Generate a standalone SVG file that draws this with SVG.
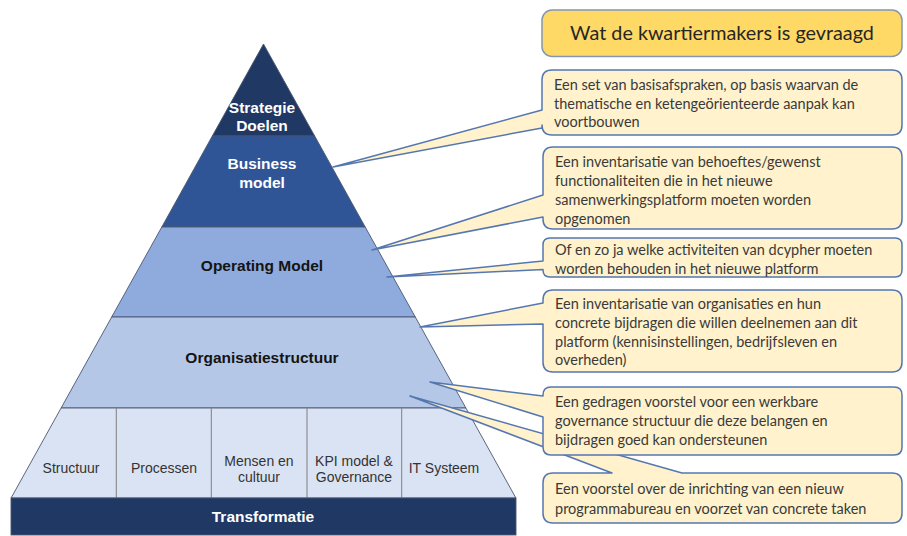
<svg xmlns="http://www.w3.org/2000/svg" width="907" height="536" viewBox="0 0 907 536">
<style>
.band{stroke:#4a5670;stroke-width:0.9}
.div{stroke:#7f7f7f;stroke-width:1}
.lblW{font-family:"Liberation Sans",Arial,sans-serif;font-weight:bold;font-size:15.5px;fill:#ffffff;text-anchor:middle}
.lblB{font-family:"Liberation Sans",Arial,sans-serif;font-weight:bold;font-size:15.5px;fill:#141414;text-anchor:middle}
.cell{font-family:"Liberation Sans",Arial,sans-serif;font-size:14px;fill:#333333;text-anchor:middle}
.co{fill:#fff2cc;stroke:#5577b0;stroke-width:1.5;stroke-linejoin:round}
.ct{font-family:Lato,"Liberation Sans",sans-serif;font-size:14.5px;fill:#3a3a3a}
.title{fill:#ffd966;stroke:#8497b0;stroke-width:1.5}
.tt{font-family:Lato,"Liberation Sans",sans-serif;font-size:19.8px;fill:#262626;text-anchor:middle}
</style>
<rect width="907" height="536" fill="#ffffff"/>
<g id="pyramid">
<g id="strategie"><polygon class="band" fill="#203864" points="263.5,44 314.7,136 212.3,136"/>
<text class="lblW" x="262" y="113">Strategie</text><text class="lblW" x="262" y="131">Doelen</text></g>
<g id="business"><polygon class="band" fill="#2f5597" points="212.3,136 314.7,136 365.2,227 161.8,227"/>
<text class="lblW" x="262" y="169">Business</text><text class="lblW" x="262" y="188">model</text></g>
<g id="operating"><polygon class="band" fill="#8faadc" points="161.8,227 365.2,227 415.3,317 111.7,317"/>
<text class="lblB" x="262" y="271">Operating Model</text></g>
<g id="organisatie"><polygon class="band" fill="#b4c7e7" points="111.7,317 415.3,317 465.9,408 61.1,408"/>
<text class="lblB" x="262" y="363">Organisatiestructuur</text></g>
<g id="bottomrow"><polygon class="band" fill="#dae3f3" points="61.1,408 465.9,408 515.9,498 11.1,498"/>
<line class="div" x1="116.3" y1="408" x2="116.3" y2="498"/>
<line class="div" x1="211.3" y1="408" x2="211.3" y2="498"/>
<line class="div" x1="307" y1="408" x2="307" y2="498"/>
<line class="div" x1="401.7" y1="408" x2="401.7" y2="498"/>
<text class="cell" x="71" y="473">Structuur</text>
<text class="cell" x="164" y="473">Processen</text>
<text class="cell" x="259" y="466">Mensen en</text><text class="cell" x="259" y="482">cultuur</text>
<text class="cell" x="354" y="466">KPI model &amp;</text><text class="cell" x="354" y="482">Governance</text>
<text class="cell" x="444" y="473">IT Systeem</text></g>
<g id="transformatie"><rect x="11" y="498" width="505" height="37" fill="#203864" stroke="#4a5670" stroke-width="0.9"/>
<text class="lblW" x="263" y="522">Transformatie</text></g>
</g>
<g id="connectors"></g>
<g id="title"><rect class="title" x="542" y="10" width="360" height="46.5" rx="10"/>
<text class="tt" x="722" y="40">Wat de kwartiermakers is gevraagd</text></g>
<g id="callout1"><path class="co" d="M552,70 H892 Q902,70 902,80 V125 Q902,135 892,135 H552 Q542,135 542,125 V128 L333,167 L542,110 V80 Q542,70 552,70 Z"/>
<text class="ct" x="554" y="90">Een set van basisafspraken, op basis waarvan de</text>
<text class="ct" x="554" y="108.5">thematische en ketengeörienteerde aanpak kan</text>
<text class="ct" x="554" y="127">voortbouwen</text></g>
<g id="callout2"><path class="co" d="M553,147 H892 Q902,147 902,157 V219 Q902,229 892,229 H553 Q543,229 543,219 V217 L372,250 L543,195 V157 Q543,147 553,147 Z"/>
<text class="ct" x="555" y="166.5">Een inventarisatie van behoeftes/gewenst</text>
<text class="ct" x="555" y="185.5">functionaliteiten die in het nieuwe</text>
<text class="ct" x="555" y="205">samenwerkingsplatform moeten worden</text>
<text class="ct" x="555" y="224">opgenomen</text></g>
<g id="callout3"><path class="co" d="M550,238 H895 Q902,238 902,245 V270 Q902,277 895,277 H550 Q543,277 543,270 V269.5 L387,277 L543,261 V245 Q543,238 550,238 Z"/>
<text class="ct" x="555" y="255">Of en zo ja welke activiteiten van dcypher moeten</text>
<text class="ct" x="555" y="273.5">worden behouden in het nieuwe platform</text></g>
<g id="callout4"><path class="co" d="M553,290 H892 Q902,290 902,300 V362 Q902,372 892,372 H553 Q543,372 543,362 V324 L420,327 L543,303 V300 Q543,290 553,290 Z"/>
<text class="ct" x="555" y="308.5">Een inventarisatie van organisaties en hun</text>
<text class="ct" x="555" y="327.5">concrete bijdragen die willen deelnemen aan dit</text>
<text class="ct" x="555" y="346.5">platform (kennisinstellingen, bedrijfsleven en</text>
<text class="ct" x="555" y="365">overheden)</text></g>
<g id="callout6"><path class="co" d="M553,473 H612 L410,396 L682,473 H892 Q902,473 902,483 V513 Q902,523 892,523 H553 Q543,523 543,513 V483 Q543,473 553,473 Z"/>
<text class="ct" x="555" y="494">Een voorstel over de inrichting van een nieuw</text>
<text class="ct" x="555" y="513.5">programmabureau en voorzet van concrete taken</text></g>
<g id="callout5"><path class="co" d="M551,387 H894 Q902,387 902,395 V447 Q902,455 894,455 H551 Q543,455 543,447 V417 L430,382 L543,396 V395 Q543,387 551,387 Z"/>
<text class="ct" x="555" y="406.5">Een gedragen voorstel voor een werkbare</text>
<text class="ct" x="555" y="426">governance structuur die deze belangen en</text>
<text class="ct" x="555" y="444.5">bijdragen goed kan ondersteunen</text></g>
</svg>
